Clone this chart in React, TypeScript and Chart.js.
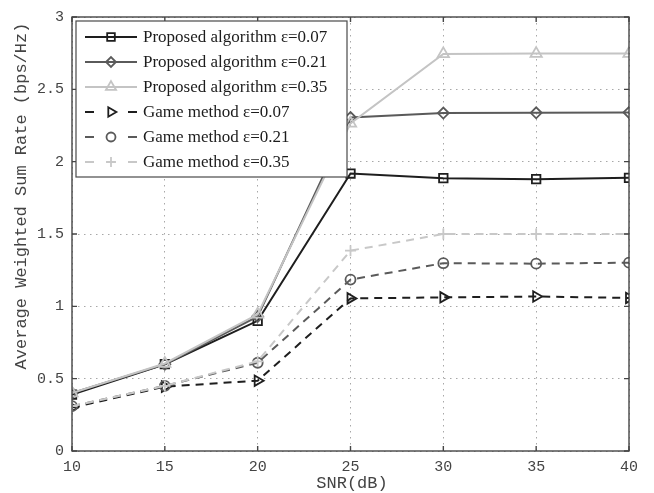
import React, { useEffect, useRef } from 'react';
import { Chart, registerables } from 'chart.js';

Chart.register(...registerables);

const snr = [10, 15, 20, 25, 30, 35, 40];
const proposed007 = [0.39, 0.6, 0.9, 1.918, 1.886, 1.879, 1.888];
const proposed021 = [0.4, 0.6, 0.93, 2.305, 2.336, 2.338, 2.34];
const proposed035 = [0.4, 0.605, 0.945, 2.265, 2.745, 2.747, 2.747];
const game007 = [0.3, 0.445, 0.486, 1.055, 1.062, 1.068, 1.058];
const game021 = [0.31, 0.45, 0.61, 1.185, 1.298, 1.295, 1.302];
const game035 = [0.31, 0.45, 0.62, 1.385, 1.5, 1.5, 1.5];

const seriesLabels = [
  'Proposed algorithm ε=0.07',
  'Proposed algorithm ε=0.21',
  'Proposed algorithm ε=0.35',
  'Game method ε=0.07',
  'Game method ε=0.21',
  'Game method ε=0.35',
];
const xTicks = [10, 15, 20, 25, 30, 35, 40];
const yTicks = [0, 0.5, 1, 1.5, 2, 2.5, 3];
const xTitle = 'SNR(dB)';
const yTitle = 'Average Weighted Sum Rate (bps/Hz)';

const MONO = '"Liberation Mono", "DejaVu Sans Mono", monospace';
const SERIF = '"Liberation Serif", "DejaVu Serif", serif';

type Style = {
  color: string;
  dash: number[];
  point: string;
  rotation: number;
  radius: number;
};

const styles: Style[] = [
  { color: '#1e1e1e', dash: [], point: 'rect', rotation: 0, radius: 6 },
  { color: '#5a5a5a', dash: [], point: 'rectRot', rotation: 0, radius: 5.5 },
  { color: '#c4c4c4', dash: [], point: 'triangle', rotation: 0, radius: 6.5 },
  { color: '#1e1e1e', dash: [8, 6], point: 'triangle', rotation: 90, radius: 6 },
  { color: '#5a5a5a', dash: [8, 6], point: 'circle', rotation: 0, radius: 5 },
  { color: '#c8c8c8', dash: [8, 6], point: 'cross', rotation: 0, radius: 5.5 },
];

const seriesValues = [proposed007, proposed021, proposed035, game007, game021, game035];

function drawMarker(ctx: CanvasRenderingContext2D, s: Style, x: number, y: number, r: number) {
  ctx.beginPath();
  const rot = (s.rotation * Math.PI) / 180;
  if (s.point === 'rect') {
    const h = r * Math.SQRT1_2;
    ctx.rect(x - h, y - h, 2 * h, 2 * h);
  } else if (s.point === 'rectRot') {
    ctx.moveTo(x - r, y);
    ctx.lineTo(x, y - r);
    ctx.lineTo(x + r, y);
    ctx.lineTo(x, y + r);
    ctx.closePath();
  } else if (s.point === 'triangle') {
    let a = rot;
    ctx.moveTo(x + Math.sin(a) * r, y - Math.cos(a) * r);
    a += (2 * Math.PI) / 3;
    ctx.lineTo(x + Math.sin(a) * r, y - Math.cos(a) * r);
    a += (2 * Math.PI) / 3;
    ctx.lineTo(x + Math.sin(a) * r, y - Math.cos(a) * r);
    ctx.closePath();
  } else if (s.point === 'circle') {
    ctx.arc(x, y, r, 0, Math.PI * 2);
  } else if (s.point === 'cross') {
    ctx.moveTo(x - r, y);
    ctx.lineTo(x + r, y);
    ctx.moveTo(x, y - r);
    ctx.lineTo(x, y + r);
  }
  ctx.stroke();
}

const framePlugin = {
  id: 'matlabFrame',
  afterDraw(chart: any) {
    const { ctx, chartArea } = chart;
    const { left, right, top, bottom } = chartArea;
    const xs = chart.scales.x;
    const ys = chart.scales.y;
    ctx.save();
    ctx.strokeStyle = '#454545';
    ctx.lineWidth = 1.4;
    ctx.setLineDash([]);
    ctx.strokeRect(left, top, right - left, bottom - top);
    const tl = 5;
    ctx.beginPath();
    xTicks.forEach((v) => {
      const px = xs.getPixelForValue(v);
      ctx.moveTo(px, bottom);
      ctx.lineTo(px, bottom - tl);
      ctx.moveTo(px, top);
      ctx.lineTo(px, top + tl);
    });
    yTicks.forEach((v) => {
      const py = ys.getPixelForValue(v);
      ctx.moveTo(left, py);
      ctx.lineTo(left + tl, py);
      ctx.moveTo(right, py);
      ctx.lineTo(right - tl, py);
    });
    ctx.stroke();

    ctx.fillStyle = '#444';
    ctx.font = `17px ${MONO}`;
    ctx.textAlign = 'center';
    ctx.textBaseline = 'middle';
    ctx.fillText(xTitle, 352, 483);
    ctx.save();
    ctx.translate(21, 196);
    ctx.rotate(-Math.PI / 2);
    ctx.fillText(yTitle, 0, 0);
    ctx.restore();

    const lx = left + 4;
    const ly = top + 4;
    const lw = 271;
    const lh = 156;
    ctx.fillStyle = '#ffffff';
    ctx.fillRect(lx, ly, lw, lh);
    ctx.strokeStyle = '#4a4a4a';
    ctx.lineWidth = 1.2;
    ctx.strokeRect(lx, ly, lw, lh);
    const rowH = 25;
    const x0 = lx + 9;
    const x1 = lx + 61;
    const xm = (x0 + x1) / 2;
    ctx.font = `17px ${SERIF}`;
    ctx.textAlign = 'left';
    ctx.textBaseline = 'middle';
    styles.forEach((s, i) => {
      const y = ly + 16 + i * rowH;
      ctx.strokeStyle = s.color;
      ctx.lineWidth = 2;
      ctx.setLineDash([]);
      ctx.beginPath();
      if (s.dash.length) {
        ctx.moveTo(x0, y);
        ctx.lineTo(x0 + 9, y);
        ctx.moveTo(x1 - 9, y);
        ctx.lineTo(x1, y);
      } else {
        ctx.moveTo(x0, y);
        ctx.lineTo(x1, y);
      }
      ctx.stroke();
      ctx.lineWidth = 1.8;
      drawMarker(ctx, s, xm, y, s.radius * 0.9);
      ctx.fillStyle = '#1c1c1c';
      ctx.fillText(seriesLabels[i], lx + 67, y + 1);
    });
    ctx.restore();
  },
};

export default function App() {
  const ref = useRef<HTMLCanvasElement | null>(null);
  useEffect(() => {
    if (!ref.current) return;
    const datasets = seriesValues.map((vals, i) => {
      const s = styles[i];
      return {
        label: seriesLabels[i],
        data: snr.map((x, j) => ({ x, y: vals[j] })),
        borderColor: s.color,
        backgroundColor: 'transparent',
        borderWidth: 2,
        borderDash: s.dash,
        pointStyle: s.point,
        pointRotation: s.rotation,
        pointRadius: s.radius,
        pointBorderColor: s.color,
        pointBackgroundColor: 'rgba(0,0,0,0)',
        pointBorderWidth: 1.8,
        tension: 0,
        fill: false,
      };
    });
    const chart = new Chart(ref.current, {
      type: 'line',
      data: { datasets: datasets.slice().reverse() as any },
      options: {
        responsive: false,
        animation: false,
        layout: { padding: { left: 0, top: 13, right: 25, bottom: 0 } },
        plugins: { legend: { display: false }, tooltip: { enabled: false } },
        scales: {
          x: {
            type: 'linear',
            min: 10,
            max: 40,
            afterBuildTicks: (scale: any) => {
              scale.ticks = xTicks.map((v) => ({ value: v }));
            },
            afterFit: (scale: any) => {
              scale.height = 42;
            },
            grid: { color: '#a8a8a8', lineWidth: 1, drawTicks: false },
            border: { display: false, dash: [1.5, 4.5] },
            ticks: {
              padding: 7,
              color: '#444',
              font: { family: MONO, size: 15 },
              maxRotation: 0,
              callback: (v: any) => String(v),
            },
          },
          y: {
            type: 'linear',
            min: 0,
            max: 3,
            afterBuildTicks: (scale: any) => {
              scale.ticks = yTicks.map((v) => ({ value: v }));
            },
            afterFit: (scale: any) => {
              scale.width = 72;
            },
            grid: { color: '#a8a8a8', lineWidth: 1, drawTicks: false },
            border: { display: false, dash: [1.5, 4.5] },
            ticks: {
              padding: 8,
              color: '#444',
              font: { family: MONO, size: 15 },
              callback: (v: any) => String(v),
            },
          },
        },
      },
      plugins: [framePlugin],
    });
    return () => chart.destroy();
  }, []);
  return (
    <div style={{ position: 'absolute', left: 0, top: 0, width: 654, height: 493, background: '#fff' }}>
      <canvas ref={ref} width={654} height={493} style={{ display: 'block' }} />
    </div>
  );
}
